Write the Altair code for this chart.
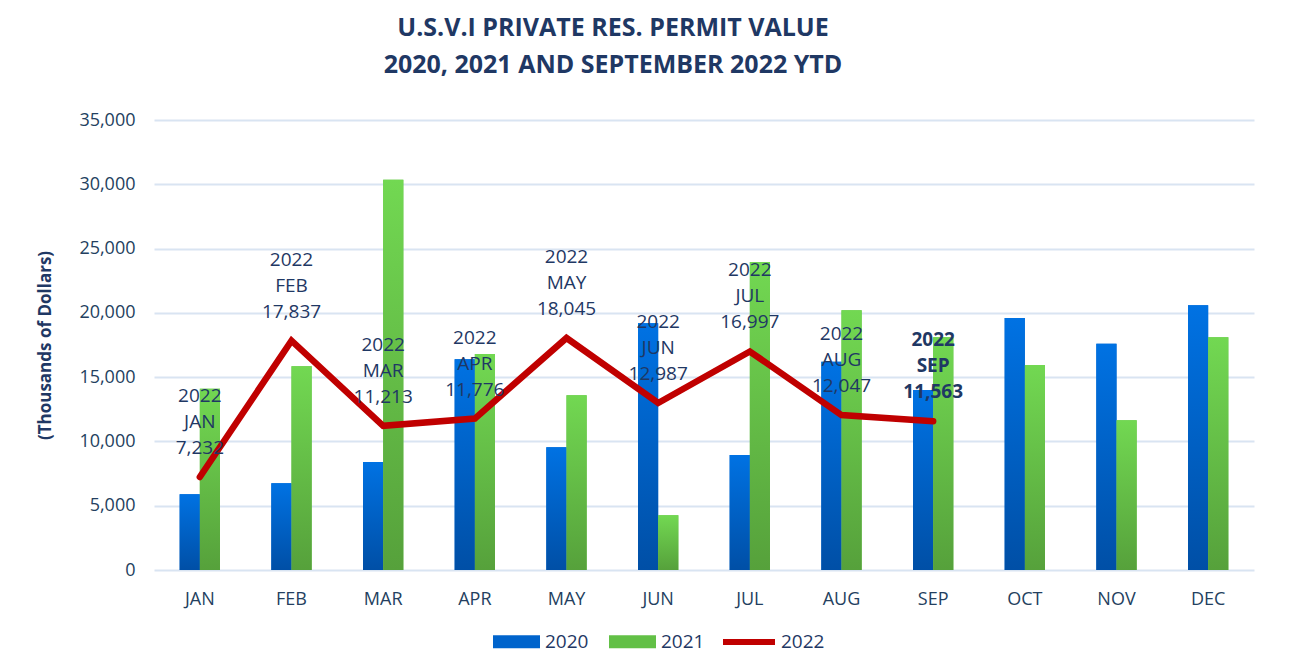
import altair as alt
import pandas as pd

months = ["JAN", "FEB", "MAR", "APR", "MAY", "JUN", "JUL", "AUG", "SEP", "OCT", "NOV", "DEC"]
v2020 = [5900, 6750, 8400, 16400, 9550, 19200, 8950, 16200, 14000, 19600, 17600, 20600]
v2021 = [14100, 15850, 30350, 16800, 13600, 4250, 23950, 20200, 18100, 15950, 11650, 18100]
v2022 = [7232, 17837, 11213, 11776, 18045, 12987, 16997, 12047, 11563]
bar_years = ["2020", "2021"]
line_year = "2022"
y_ticks = [0, 5000, 10000, 15000, 20000, 25000, 30000, 35000]

NAVY = "#1F3864"
FONT = "Open Sans"

bars = pd.DataFrame({
    "month": months * 2,
    "year": [bar_years[0]] * len(months) + [bar_years[1]] * len(months),
    "value": v2020 + v2021,
})
line = pd.DataFrame({
    "month": months[: len(v2022)],
    "value": v2022,
    "series": line_year,
})
line["label"] = [f"{line_year}\n{m}\n{v:,}" for m, v in zip(line["month"], line["value"])]

x_enc = alt.X(
    "month:N", sort=months,
    scale=alt.Scale(paddingInner=0.56, paddingOuter=0.28),
    axis=alt.Axis(title=None, labelFontSize=18, labelPadding=20, grid=False, labelAngle=0),
)
y_enc = alt.Y(
    "value:Q",
    scale=alt.Scale(domain=[0, 35000]),
    axis=alt.Axis(values=y_ticks, format=",.0f", title="(Thousands of Dollars)",
                  labelFontSize=18, labelPadding=19, titleFontSize=17,
                  titleFontWeight="bold", titleColor=NAVY, titlePadding=24,
                  titleFont=FONT),
)
xoff = alt.XOffset("year:N", scale=alt.Scale(domain=bar_years))

base = alt.Chart(bars).mark_bar().encode(
    x=x_enc, xOffset=xoff, y=y_enc,
    fill=alt.Fill("year:N", scale=alt.Scale(domain=bar_years, range=["#0064CC", "#62C046"]),
                  legend=alt.Legend(orient="none", legendX=339, legendY=498, direction="horizontal",
                                    title=None, symbolType="M-1,-0.28H1V0.28H-1Z", symbolSize=2209,
                                    symbolStrokeWidth=0, labelFontSize=19, labelFont=FONT,
                                    labelColor=NAVY, columnPadding=20, labelOffset=5)),
)

grads = {
    "2020": ("#0072E3", "#004FA6"),
    "2021": ("#72D852", "#56A13B"),
}
overlays = []
for yr in bar_years:
    top, bottom = grads[yr]
    overlays.append(
        alt.Chart(bars).transform_filter(alt.datum.year == yr).mark_bar(
            fill=alt.Gradient(gradient="linear",
                              stops=[alt.GradientStop(color=top, offset=0),
                                     alt.GradientStop(color=bottom, offset=1)],
                              x1=0, y1=0, x2=0, y2=1)
        ).encode(x=x_enc, xOffset=xoff, y=y_enc)
    )

line_layer = alt.Chart(line).mark_line(strokeWidth=6.5, strokeCap="round", strokeJoin="miter").encode(
    x=x_enc, y=y_enc,
    stroke=alt.Stroke("series:N", scale=alt.Scale(domain=[line_year], range=["#C00000"]),
                      legend=alt.Legend(orient="none", legendX=566, legendY=493, title=None,
                                        symbolType="stroke", symbolSize=2704, symbolStrokeWidth=6,
                                        labelFontSize=19, labelFont=FONT, labelColor=NAVY,
                                        labelOffset=3)),
)

text_normal = alt.Chart(line).transform_filter(alt.datum.month != "SEP").mark_text(
    lineBreak="\n", baseline="bottom", dy=-71, fontSize=19, lineHeight=26, color=NAVY, font=FONT
).encode(x=x_enc, y=y_enc, text="label:N")

text_bold = alt.Chart(line).transform_filter(alt.datum.month == "SEP").mark_text(
    lineBreak="\n", baseline="bottom", dy=-71, fontSize=19, lineHeight=26, color=NAVY, font=FONT,
    fontWeight="bold"
).encode(x=x_enc, y=y_enc, text="label:N")

chart = alt.layer(base, *overlays, line_layer, text_normal, text_bold).properties(
    width=1100, height=450,
    padding={"left": 28, "top": 8, "right": 25, "bottom": 5},
    title=alt.Title(["U.S.V.I PRIVATE RES. PERMIT VALUE", "2020, 2021 AND SEPTEMBER 2022 YTD"],
                    fontSize=25, font=FONT, fontWeight="bold", color=NAVY, lineHeight=37,
                    anchor="middle", dx=-91, offset=33),
).configure_view(stroke=None).configure_axis(
    gridColor="#D9E4F2", gridWidth=2, domain=False, ticks=False,
    labelColor="#243F60", labelFont=FONT,
)

chart.save("out.html", embed_options={"renderer": "svg", "actions": False})
